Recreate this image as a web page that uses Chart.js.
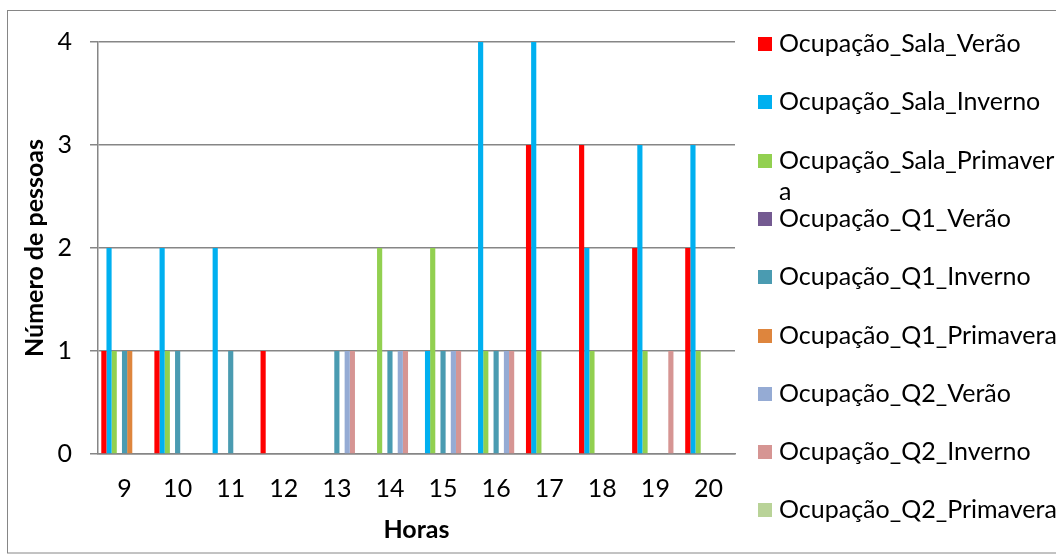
<!DOCTYPE html>
<html>
<head>
<meta charset="utf-8">
<script src="https://cdn.jsdelivr.net/npm/chart.js@4.4.0/dist/chart.umd.min.js"></script>
<style>
  html, body { margin: 0; padding: 0; background: #fff; }
</style>
</head>
<body>
<canvas id="ocupacao" width="1056" height="559"></canvas>
<script>
            const horas = ['9', '10', '11', '12', '13', '14', '15', '16', '17', '18', '19', '20'];

            const salaVerao     = [1, 1, 0, 1, 0, 0, 0, 0, 3, 3, 2, 2];
            const salaInverno   = [2, 2, 2, 0, 0, 0, 1, 4, 4, 2, 3, 3];
            const salaPrimavera = [1, 1, 0, 0, 0, 2, 2, 1, 1, 1, 1, 1];
            const q1Verao       = [0, 0, 0, 0, 0, 0, 0, 0, 0, 0, 0, 0];
            const q1Inverno     = [1, 1, 1, 0, 1, 1, 1, 1, 0, 0, 0, 0];
            const q1Primavera   = [1, 0, 0, 0, 0, 0, 0, 0, 0, 0, 0, 0];
            const q2Verao       = [0, 0, 0, 0, 1, 1, 1, 1, 0, 0, 0, 0];
            const q2Inverno     = [0, 0, 0, 0, 1, 1, 1, 1, 0, 0, 1, 0];
            const q2Primavera   = [0, 0, 0, 0, 0, 0, 0, 0, 0, 0, 0, 0];

            const yTicks = [0, 1, 2, 3, 4];

            const FONT = 'Lato';
            const FONT_SIZE = 25;
            const GRID = '#868686';

            const series = [
                ['Ocupação_Sala_Verão', salaVerao, '#FF0000'],
                ['Ocupação_Sala_Inverno', salaInverno, '#00B0F0'],
                ['Ocupação_Sala_Primavera', salaPrimavera, '#92D050'],
                ['Ocupação_Q1_Verão', q1Verao, '#745A91'],
                ['Ocupação_Q1_Inverno', q1Inverno, '#4A9BB1'],
                ['Ocupação_Q1_Primavera', q1Primavera, '#DE853D'],
                ['Ocupação_Q2_Verão', q2Verao, '#95ABD4'],
                ['Ocupação_Q2_Inverno', q2Inverno, '#D69593'],
                ['Ocupação_Q2_Primavera', q2Primavera, '#B9D398'],
            ];

            // outer frame of the chart object
            const frame = {
                id: 'frame',
                beforeDraw(chart) {
                    const ctx = chart.ctx;
                    ctx.save();
                    ctx.fillStyle = '#fff';
                    ctx.fillRect(0, 0, chart.width, chart.height);
                    ctx.strokeStyle = GRID;
                    ctx.lineWidth = 1;
                    ctx.strokeRect(7.5, 10.5, chart.width + 10, 542.5);
                    ctx.restore();
                }
            };

            // legend on the right, one row per series, long names wrap by letter
            const sideLegend = {
                id: 'sideLegend',
                afterDraw(chart) {
                    const ctx = chart.ctx;
                    const maxW = 284;
                    ctx.save();
                    ctx.font = FONT_SIZE + 'px ' + FONT;
                    ctx.textBaseline = 'middle';
                    ctx.fillStyle = '#000';
                    chart.data.datasets.forEach((ds, i) => {
                        const y = 44 + i * 58.3;
                        ctx.fillStyle = ds.backgroundColor;
                        ctx.fillRect(758, Math.round(y - 7), 14, 14);
                        ctx.fillStyle = '#000';
                        const lines = [];
                        let cur = '';
                        for (const ch of ds.label) {
                            if (ctx.measureText(cur + ch).width > maxW && cur) {
                                lines.push(cur);
                                cur = ch;
                            } else {
                                cur += ch;
                            }
                        }
                        lines.push(cur);
                        lines.forEach((ln, k) => ctx.fillText(ln, 779, y + k * 31));
                    });
                    ctx.restore();
                }
            };

            const ocupacaoData = {
                labels: horas,
                datasets: series.map(([label, data, color]) => ({
                    label: label,
                    data: data,
                    backgroundColor: color,
                    borderWidth: 0,
                    barPercentage: 1,
                    categoryPercentage: 0.876,
                }))
            };

            const ocupacaoCfg = {
                type: 'bar',
                data: ocupacaoData,
                options: {
                    responsive: false,
                    animation: false,
                    devicePixelRatio: 1,
                    layout: {
                        padding: { left: 0, top: 42, right: 321, bottom: 0 }
                    },
                    plugins: {
                        legend: { display: false },
                        tooltip: { enabled: false },
                    },
                    scales: {
                        x: {
                            grid: { display: false, drawTicks: false },
                            border: { display: true, color: GRID, width: 1.5 },
                            ticks: {
                                color: '#000',
                                font: { family: FONT, size: FONT_SIZE },
                                padding: 20,
                                maxRotation: 0,
                            },
                            title: {
                                display: true,
                                text: 'Horas',
                                color: '#000',
                                font: { family: FONT, size: FONT_SIZE, weight: 'bold' },
                                padding: { top: 0, bottom: 14 },
                            },
                            afterFit(scale) { scale.height = 105; },
                        },
                        y: {
                            min: 0,
                            max: 4,
                            afterBuildTicks(scale) {
                                scale.ticks = yTicks.map(v => ({ value: v }));
                            },
                            grid: {
                                color: GRID,
                                lineWidth: 1.5,
                                drawTicks: true,
                                tickLength: 8,
                            },
                            border: { display: true, color: GRID, width: 1.5 },
                            ticks: {
                                color: '#000',
                                font: { family: FONT, size: FONT_SIZE },
                                padding: 18,
                            },
                            title: {
                                display: true,
                                text: 'Número de pessoas',
                                color: '#000',
                                font: { family: FONT, size: FONT_SIZE, weight: 'bold' },
                                padding: { top: 20, bottom: 0 },
                            },
                            afterFit(scale) { scale.width = 98; },
                        }
                    }
                },
                plugins: [frame, sideLegend]
            };

            const ocupacao = new Chart(
                document.getElementById('ocupacao'),
                ocupacaoCfg
            );
</script>
</body>
</html>
